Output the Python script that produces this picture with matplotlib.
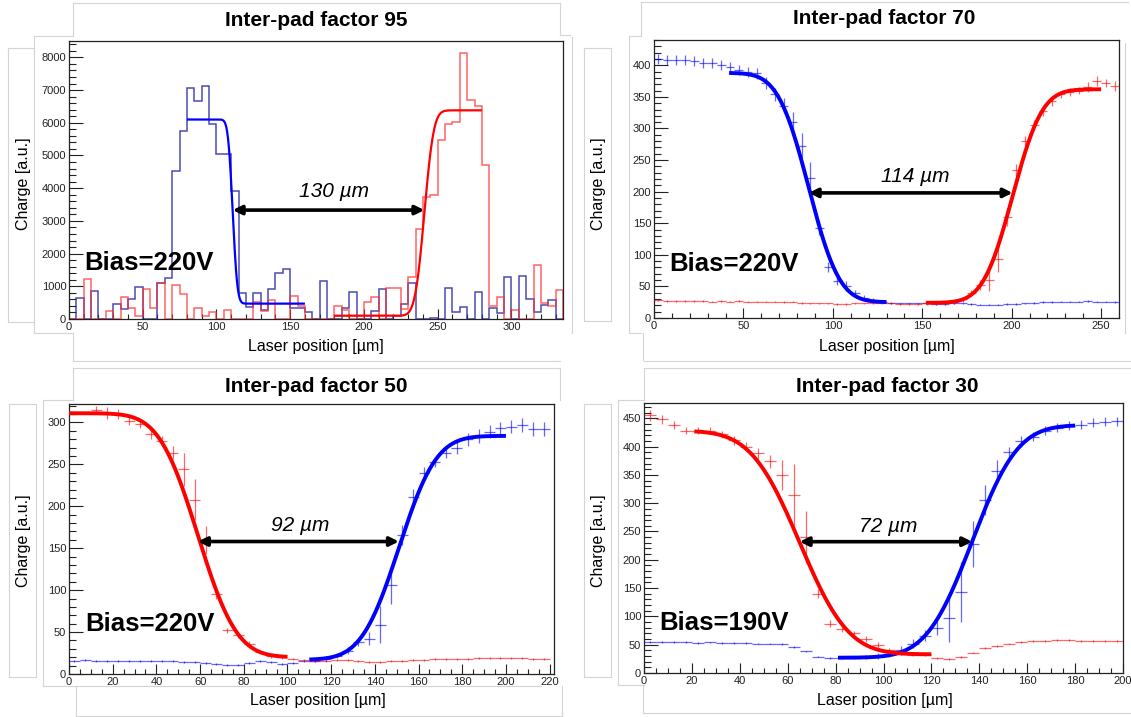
import math
import numpy as np
import matplotlib
matplotlib.use("Agg")
import matplotlib.pyplot as plt
from matplotlib.ticker import MultipleLocator

plt.rcParams['font.family'] = ['Liberation Sans', 'DejaVu Sans']

# ---------------- Inter-pad factor 95 : 5 um histograms ----------------
edges_95 = np.arange(0, 340, 5)
blue_95 = [0, 630, 0, 870, 0, 0, 460, 300, 610, 990,
           0, 0, 1100, 1250, 4530, 5740, 7060, 6660, 7130, 5970,
           5050, 5050, 3900, 780, 380, 790, 280, 910, 1400, 1520,
           330, 330, 200, 0, 1160, 0, 0, 330, 830, 0,
           0, 230, 920, 0, 100, 460, 1090, 0, 0, 30,
           0, 950, 220, 380, 0, 820, 0, 350, 170, 1290,
           0, 1310, 600, 220, 430, 580, 0]
red_95 = [0, 0, 1210, 0, 0, 250, 0, 660, 325, 90,
          930, 350, 1100, 0, 1050, 750, 0, 350, 100, 200,
          0, 270, 0, 0, 0, 520, 250, 580, 0, 0,
          700, 400, 0, 0, 0, 0, 400, 280, 0, 0,
          510, 660, 0, 950, 950, 320, 1280, 2750, 3740, 3800,
          5480, 5970, 6020, 8130, 6700, 6500, 4720, 400, 680, 0,
          280, 0, 0, 1660, 480, 400, 880]

# ---------------- Inter-pad factor 70 ----------------
x_70 = np.arange(2.5, 260, 5)
blue_70 = [410, 409, 408, 408, 407, 403, 403, 400, 397, 392,
           390, 387, 372, 354, 336, 311, 273, 221, 143, 81,
           58, 51, 40, 32, 28, 26, 24, 23, 23, 23,
           23, 22, 22, 23, 23, 22, 21, 21, 21, 22,
           22, 23, 24, 25, 25, 26, 26, 26, 27, 26,
           26, 25]
blue_70_err = [8, 8, 8, 8, 8, 8, 8, 8, 8, 8,
               8, 8, 9, 10, 12, 15, 20, 26, 12, 8,
               6, 8, 5, 4, 3, 1.2, 1.2, 1.2, 1.2, 1.2,
               1.2, 1.2, 1.2, 1.2, 1.2, 1.2, 1.2, 1.2, 1.2, 1.2,
               1.2, 1.2, 1.2, 1.2, 1.2, 1.2, 1.2, 1.2, 1.2, 1.2,
               1.2, 1.2]
red_70 = [28, 27, 27, 27, 27, 27, 26, 27, 26, 27,
          26, 26, 26, 26, 25, 26, 24, 23, 23, 23,
          22, 22, 23, 23, 23, 23, 23, 22, 22, 22,
          23, 23, 24, 25, 30, 40, 52, 60, 93, 160,
          234, 280, 306, 327, 344, 354, 358, 360, 366, 375,
          372, 367]
red_70_err = [1.2, 1.2, 1.2, 1.2, 1.2, 1.2, 1.2, 1.2, 1.2, 1.2,
              1.2, 1.2, 1.2, 1.2, 1.2, 1.2, 1.2, 1.2, 1.2, 1.2,
              1.2, 1.2, 1.2, 1.2, 1.2, 1.2, 1.2, 1.2, 1.2, 1.2,
              2, 2, 3, 3, 4, 5, 8, 18, 20, 14,
              10, 8, 8, 8, 8, 6, 6, 6, 8, 8,
              6, 8]

# ---------------- Inter-pad factor 50 ----------------
x_50_red = np.arange(12.5, 220, 5)
red_50 = [315, 311, 310, 302, 298, 286, 278, 264, 244, 208,
          160, 95, 52, 46, 36, 26, 21, 20,
          18, 17, 16, 15, 17, 17, 15, 14, 14, 15,
          16, 17, 17, 18, 18, 18, 18, 19, 19, 19,
          19, 19, 18, 18]
red_50_err = [5, 7, 6, 5, 5, 6, 6, 8, 20, 24,
              17, 5, 3, 3, 3, 2, 2, 2,
              1.2, 1.2, 1.2, 1.2, 1.2, 1.2, 1.2, 1.2, 1.2, 1.2,
              1.2, 1.2, 1.2, 1.2, 1.2, 1.2, 1.2, 1.2, 1.2, 1.2,
              1.2, 1.2, 1.2, 1.2]
x_50_blue = np.arange(2.5, 220, 5)
blue_50 = [16, 17, 16, 16, 16, 15, 16, 15, 16, 15,
           14, 14, 13, 12, 11, 11, 13, 15, 14, 12,
           13, 15,
           16, 18, 22, 28, 38, 42, 59, 106, 166, 211,
           240, 253, 264, 270, 280, 284, 289, 293, 295, 297,
           292, 292]
blue_50_err = [1.2, 1.2, 1.2, 1.2, 1.2, 1.2, 1.2, 1.2, 1.2, 1.2,
               1.2, 1.2, 1.2, 1.2, 1.2, 1.2, 1.2, 1.2, 1.2, 1.2,
               1.2, 1.2,
               2, 3, 3, 4, 5, 8, 22, 22, 12, 10,
               7, 6, 6, 8, 8, 8, 8, 8, 8, 8,
               8, 8]

# ---------------- Inter-pad factor 30 ----------------
x_30 = np.arange(2.5, 200, 5)
red_30 = [455, 448, 438, 428, 428, 428, 422, 411, 400, 388,
          374, 350, 314, 240, 140, 87, 78, 70, 60, 50,
          40, 34, 32, 31, 27, 25, 28, 36, 44, 48,
          52, 55, 57, 57, 58, 58, 57, 57, 57, 56]
red_30_err = [10, 8, 7, 6, 6, 6, 6, 8, 8, 10,
              12, 26, 55, 46, 8, 6, 5, 5, 5, 5,
              4, 1.5, 1.5, 1.5, 1.5, 1.5, 1.5, 1.5, 1.5, 1.5,
              1.5, 1.5, 1.5, 1.5, 1.5, 1.5, 1.5, 1.5, 1.5, 1.5]
blue_30 = [55, 55, 55, 55, 53, 54, 53, 53, 53, 52,
           52, 51, 46, 38, 29, 26, 26,
           27, 28, 30, 34, 40, 52, 66, 79, 97, 143,
           228, 306, 357, 390, 409, 417, 428, 433, 437, 439,
           442, 444, 445]
blue_30_err = [1.5, 1.5, 1.5, 1.5, 1.5, 1.5, 1.5, 1.5, 1.5, 1.5,
               1.5, 1.5, 1.5, 1.5, 1.5, 1.5, 1.5,
               3, 4, 5, 6, 8, 8, 10, 12, 43, 53,
               40, 27, 20, 10, 10, 8, 8, 8, 8, 8,
               8, 8, 8]

# fitted edge functions: (x from, x to, level left, level right, centre, sigma)
fit_95_blue = (80, 160, 6100, 470, 111, 2.5)
fit_95_red = (180, 280, 100, 6380, 241, 5.0)
fit_70_blue = (42, 130, 388, 25, 86.5, 13.5)
fit_70_red = (152, 250, 24, 362, 200.5, 13.0)
fit_50_red = (0, 100, 311, 20, 59, 14.0)
fit_50_blue = (110, 200, 17, 284, 151, 13.5)
fit_30_red = (21, 120, 428, 33, 65, 16.0)
fit_30_blue = (81, 180, 27, 438, 137, 15.0)

# inter-pad distances [um]
gap_95, gap_70, gap_50, gap_30 = 130, 114, 92, 72

titles = ["Inter-pad factor 95", "Inter-pad factor 70",
          "Inter-pad factor 50", "Inter-pad factor 30"]
bias_labels = ["Bias=220V", "Bias=220V", "Bias=220V", "Bias=190V"]

# ---------------- drawing ----------------
W, H = 1131, 717
fig = plt.figure(figsize=(W / 100, H / 100), dpi=100)
fig.patch.set_facecolor("white")

BLUE = "#0000ff"
RED = "#ff0000"


def fig_xy(x, y):
    return x / W, 1 - y / H


def make_axes(left, right, top, bottom):
    ax = fig.add_axes([left / W, 1 - bottom / H, (right - left) / W, (bottom - top) / H])
    for s in ax.spines.values():
        s.set_linewidth(0.9)
        s.set_color("#222222")
    ax.tick_params(axis="both", which="both", direction="in", top=False, right=False,
                   labelsize=8, pad=2, width=0.8, colors="#222222")
    ax.tick_params(axis="y", which="major", length=10)
    ax.tick_params(axis="y", which="minor", length=5)
    ax.tick_params(axis="x", which="major", length=7)
    ax.tick_params(axis="x", which="minor", length=3.5)
    return ax


def edge_curve(ax, fit, color, lw):
    x0, x1, lo, hi, c, s = fit
    xs = np.linspace(x0, x1, 300)
    ys = np.array([lo + (hi - lo) * 0.5 * (1 + math.erf((v - c) / (math.sqrt(2) * s))) for v in xs])
    ax.plot(xs, ys, color=color, lw=lw, solid_capstyle="butt", zorder=4)


def points(ax, x, y, err, color):
    ax.errorbar(x, y, xerr=2.5, yerr=err, fmt="none", ecolor=color, elinewidth=0.9,
                capsize=0, alpha=0.6, zorder=3)


def gap_arrow(ax, x_left, gap, y, text, tx, ty):
    ax.annotate("", xy=(x_left + gap, y), xytext=(x_left, y),
                arrowprops=dict(arrowstyle="<|-|>", color="black", lw=2.6,
                                mutation_scale=13, shrinkA=0, shrinkB=0), zorder=6)
    ax.text(tx, ty, text, ha="center", va="center", fontsize=15, style="italic", zorder=6)


def labels(idx, ax, title_xy, xlab_xy, ylab_xy, bias_xy):
    fig.text(*fig_xy(*title_xy), titles[idx], ha="center", va="center",
             fontsize=15, fontweight="bold")
    fig.text(*fig_xy(*xlab_xy), "Laser position [\u00b5m]", ha="center", va="center", fontsize=11.5)
    fig.text(*fig_xy(*ylab_xy), "Charge [a.u.]", ha="center", va="center",
             fontsize=11.5, rotation=90)
    ax.text(bias_xy[0], bias_xy[1], bias_labels[idx], transform=ax.transAxes,
            ha="left", va="center", fontsize=18.5, fontweight="bold", zorder=7)


# faint borders of the assembled panels
guide = fig.add_axes([0, 0, 1, 1], zorder=-5)
guide.set_xlim(0, W)
guide.set_ylim(H, 0)
guide.axis("off")
segments = [
    # top-left
    ((73, 3), (560, 3)), ((73, 3), (73, 35)), ((560, 3), (560, 35)),
    ((34, 36), (73, 36)), ((34, 36), (34, 333)), ((34, 333), (73, 333)),
    ((8, 48), (34, 48)), ((8, 48), (8, 322)), ((8, 322), (34, 322)),
    ((73, 333), (73, 360)), ((560, 35), (570, 35)),
    # top-right
    ((641, 2), (1128, 2)), ((641, 2), (641, 35)), ((629, 36), (641, 36)),
    ((629, 36), (629, 333)), ((629, 333), (641, 333)),
    ((584, 48), (611, 48)), ((584, 48), (584, 321)), ((611, 48), (611, 321)),
    ((584, 321), (611, 321)), ((572, 37), (572, 333)), ((1125, 43), (1125, 333)),
    ((643, 333), (643, 360)),
    # bottom-left
    ((73, 361), (560, 361)), ((73, 368), (560, 368)), ((73, 368), (73, 400)),
    ((560, 368), (560, 400)), ((43, 400), (73, 400)), ((43, 400), (43, 686)),
    ((43, 686), (541, 686)), ((9, 404), (36, 404)), ((9, 404), (9, 677)),
    ((36, 404), (36, 677)), ((9, 677), (36, 677)),
    ((76, 686), (76, 716)), ((562, 686), (562, 716)), ((76, 716), (562, 716)),
    # bottom-right
    ((644, 361), (1131, 361)), ((644, 368), (1131, 368)), ((644, 368), (644, 400)),
    ((618, 400), (644, 400)), ((618, 400), (618, 685)), ((618, 685), (644, 685)),
    ((584, 404), (611, 404)), ((584, 404), (584, 677)), ((611, 404), (611, 677)),
    ((584, 677), (611, 677)), ((643, 685), (643, 713)), ((643, 713), (1131, 713)),
]
for (xa, ya), (xb, yb) in segments:
    guide.plot([xa, xb], [ya, yb], color="#d4d4d4", lw=0.8)

# ---- panel 1: factor 95 ----
ax1 = make_axes(69, 563, 41, 319)
ax1.stairs(blue_95, edges_95, baseline=0, color="#2c2ca8", lw=1.1, alpha=0.85, zorder=2)
ax1.stairs(red_95, edges_95, baseline=0, color="#ff3030", lw=1.1, alpha=0.75, zorder=2)
edge_curve(ax1, fit_95_blue, BLUE, 1.6)
edge_curve(ax1, fit_95_red, RED, 1.6)
ax1.set_xlim(0, 335)
ax1.set_ylim(0, 8500)
ax1.xaxis.set_major_locator(MultipleLocator(50))
ax1.xaxis.set_minor_locator(MultipleLocator(10))
ax1.yaxis.set_major_locator(MultipleLocator(1000))
ax1.yaxis.set_minor_locator(MultipleLocator(200))
gap_arrow(ax1, fit_95_blue[4], gap_95, 3330, f"{gap_95} \u00b5m", 180, 3900)
labels(0, ax1, (316, 21), (316, 346), (24, 184), (0.031, 0.20))

# ---- panel 2: factor 70 ----
ax2 = make_axes(654, 1119, 40, 318)
points(ax2, x_70, blue_70, blue_70_err, BLUE)
points(ax2, x_70, red_70, red_70_err, RED)
edge_curve(ax2, fit_70_blue, BLUE, 2.8)
edge_curve(ax2, fit_70_red, RED, 2.8)
ax2.set_xlim(0, 260)
ax2.set_ylim(0, 440)
ax2.xaxis.set_major_locator(MultipleLocator(50))
ax2.xaxis.set_minor_locator(MultipleLocator(10))
ax2.yaxis.set_major_locator(MultipleLocator(50))
ax2.yaxis.set_minor_locator(MultipleLocator(10))
gap_arrow(ax2, fit_70_blue[4], gap_70, 198, f"{gap_70} \u00b5m", 146, 224)
labels(1, ax2, (884, 19), (887, 346), (599, 184), (0.032, 0.196))

# ---- panel 3: factor 50 ----
ax3 = make_axes(69, 554, 404, 674)
points(ax3, x_50_blue, blue_50, blue_50_err, BLUE)
points(ax3, x_50_red, red_50, red_50_err, RED)
edge_curve(ax3, fit_50_red, RED, 2.8)
edge_curve(ax3, fit_50_blue, BLUE, 2.8)
ax3.set_xlim(0, 222)
ax3.set_ylim(0, 322)
ax3.xaxis.set_major_locator(MultipleLocator(20))
ax3.xaxis.set_minor_locator(MultipleLocator(5))
ax3.yaxis.set_major_locator(MultipleLocator(50))
ax3.yaxis.set_minor_locator(MultipleLocator(10))
gap_arrow(ax3, fit_50_red[4], gap_50, 158, f"{gap_50} \u00b5m", 106, 177)
labels(2, ax3, (316, 386), (318, 701), (24, 541), (0.034, 0.187))

# ---- panel 4: factor 30 ----
ax4 = make_axes(644, 1123, 403, 673)
points(ax4, x_30, blue_30, blue_30_err, BLUE)
points(ax4, x_30, red_30, red_30_err, RED)
edge_curve(ax4, fit_30_blue, BLUE, 2.8)
edge_curve(ax4, fit_30_red, RED, 2.8)
ax4.set_xlim(0, 200)
ax4.set_ylim(0, 477)
ax4.xaxis.set_major_locator(MultipleLocator(20))
ax4.xaxis.set_minor_locator(MultipleLocator(5))
ax4.yaxis.set_major_locator(MultipleLocator(50))
ax4.yaxis.set_minor_locator(MultipleLocator(10))
gap_arrow(ax4, fit_30_red[4], gap_30, 232, f"{gap_30} \u00b5m", 102, 259)
labels(3, ax4, (887, 386), (885, 700), (598, 541), (0.031, 0.185))

fig.savefig("out.png", dpi=100, facecolor="white")
